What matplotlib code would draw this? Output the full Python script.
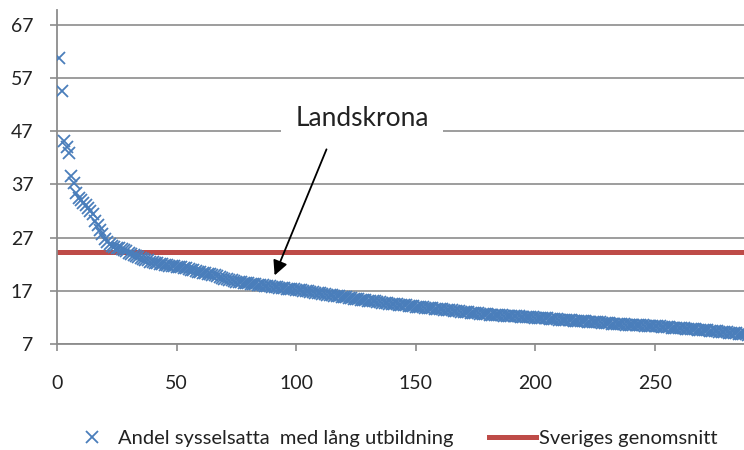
import matplotlib
matplotlib.use("Agg")
import matplotlib.pyplot as plt
import numpy as np

plt.rcParams['font.family'] = ['Lato', 'DejaVu Sans']

# andel sysselsatta med lång utbildning, kommunerna sorterade (fallande)
andel = [
    60.7, 54.6, 45.1, 44.0, 43.0, 38.5, 37.3, 35.4, 34.5, 34.0,
    33.6, 33.2, 32.6, 32.0, 31.5, 30.2, 29.3, 28.5, 27.6, 26.8,
    26.2, 25.8, 25.5, 25.3, 25.1, 25.0, 24.8, 24.6, 24.4, 24.2,
    24.0, 23.8, 23.6, 23.4, 23.2, 23.0, 22.8, 22.7, 22.5, 22.4,
    22.3, 22.2, 22.1, 22.0, 21.9, 21.8, 21.75, 21.7, 21.6, 21.55,
    21.5, 21.4, 21.3, 21.2, 21.1, 21.0, 20.9, 20.8, 20.6, 20.5,
    20.4, 20.3, 20.2, 20.1, 20.0, 19.9, 19.75, 19.6, 19.45, 19.3,
    19.2, 19.1, 18.95, 18.85, 18.75, 18.65, 18.6, 18.5, 18.45, 18.4,
    18.35, 18.3, 18.2, 18.1, 18.05, 18.0, 17.95, 17.9, 17.85, 17.8,
    17.7, 17.65, 17.6, 17.5, 17.45, 17.4, 17.35, 17.3, 17.25, 17.2,
    17.15, 17.1, 17.0, 16.95, 16.9, 16.8, 16.7, 16.65, 16.6, 16.5,
    16.45, 16.4, 16.3, 16.2, 16.15, 16.1, 16.0, 15.95, 15.9, 15.8,
    15.75, 15.7, 15.6, 15.55, 15.5, 15.4, 15.35, 15.3, 15.2, 15.15,
    15.1, 15.05, 15.0, 14.9, 14.85, 14.8, 14.75, 14.7, 14.6, 14.55,
    14.5, 14.45, 14.4, 14.35, 14.3, 14.25, 14.2, 14.15, 14.1, 14.05,
    14.0, 13.95, 13.9, 13.85, 13.8, 13.75, 13.7, 13.65, 13.6, 13.55,
    13.5, 13.45, 13.4, 13.35, 13.3, 13.25, 13.2, 13.15, 13.1, 13.05,
    13.0, 12.95, 12.9, 12.85, 12.8, 12.75, 12.7, 12.65, 12.6, 12.55,
    12.5, 12.5, 12.45, 12.45, 12.4, 12.4, 12.35, 12.35, 12.3, 12.3,
    12.25, 12.2, 12.2, 12.15, 12.1, 12.1, 12.05, 12.0, 12.0, 11.95,
    11.9, 11.9, 11.85, 11.8, 11.8, 11.75, 11.7, 11.65, 11.65, 11.6,
    11.55, 11.55, 11.5, 11.45, 11.45, 11.4, 11.35, 11.35, 11.3, 11.3,
    11.25, 11.2, 11.2, 11.15, 11.1, 11.1, 11.05, 11.0, 11.0, 10.95,
    10.9, 10.85, 10.85, 10.8, 10.75, 10.75, 10.7, 10.65, 10.65, 10.6,
    10.6, 10.55, 10.55, 10.5, 10.5, 10.45, 10.45, 10.4, 10.4, 10.35,
    10.3, 10.3, 10.25, 10.2, 10.2, 10.15, 10.1, 10.1, 10.05, 10.0,
    9.95, 9.95, 9.9, 9.85, 9.8, 9.8, 9.75, 9.7, 9.65, 9.65,
    9.6, 9.55, 9.5, 9.45, 9.45, 9.4, 9.35, 9.3, 9.25, 9.2,
    9.15, 9.1, 9.05, 9.0, 8.95, 8.9, 8.85, 8.8, 8.75, 8.7,
]
rank = list(range(1, len(andel) + 1))

sverige_snitt = 24.3
landskrona_rank = 91

y_ticks = [7, 17, 27, 37, 47, 57, 67]
x_ticks = [0, 50, 100, 150, 200, 250]

blue = '#4A7EBB'
red = '#BE4B48'
grid_col = '#8C8C8C'
text_col = '#222222'

fig = plt.figure(figsize=(7.44, 4.5), dpi=100)
ax = fig.add_axes([57 / 744, 106 / 450, 1 - 57 / 744, 334 / 450])

ax.plot(rank, andel, linestyle='none', marker='x', markersize=9,
        markeredgewidth=1.3, color=blue, clip_on=True,
        label='Andel sysselsatta  med lång utbildning', zorder=3)
ax.axhline(sverige_snitt, color=red, lw=3.6, zorder=2,
           label='Sveriges genomsnitt')

ax.set_xlim(0, 287.3)
ax.set_ylim(7, 69.8)
ax.set_yticks(y_ticks)
ax.set_xticks(x_ticks)
ax.grid(axis='y', color=grid_col, lw=1.2, zorder=0)
ax.set_axisbelow(True)

for s in ['top', 'right']:
    ax.spines[s].set_visible(False)
for s in ['left', 'bottom']:
    ax.spines[s].set_color(grid_col)
    ax.spines[s].set_linewidth(1.3)
ax.tick_params(axis='both', colors=grid_col, labelcolor=text_col,
               labelsize=14, length=5, width=1.2)
ax.tick_params(axis='x', pad=17)
ax.tick_params(axis='y', pad=12)

# etikett och pil till Landskrona
ax.text(127.5, 49.4, 'Landskrona', fontsize=19, color=text_col,
        ha='center', va='center', zorder=4,
        bbox=dict(facecolor='white', edgecolor='none', pad=10))
ax.annotate('', xy=(landskrona_rank, andel[landskrona_rank - 1] + 2.2),
            xytext=(112.7, 43.6),
            arrowprops=dict(arrowstyle='-|>', color='black', lw=1.3,
                            mutation_scale=22, shrinkA=0, shrinkB=0),
            zorder=5)

leg = fig.legend(loc='lower center', bbox_to_anchor=(0.528, -0.033), ncol=2,
                 frameon=False, fontsize=14.5, handlelength=2.3,
                 columnspacing=1.8, handletextpad=0.15)
for t in leg.get_texts():
    t.set_color(text_col)

fig.savefig('out.png', dpi=100)
